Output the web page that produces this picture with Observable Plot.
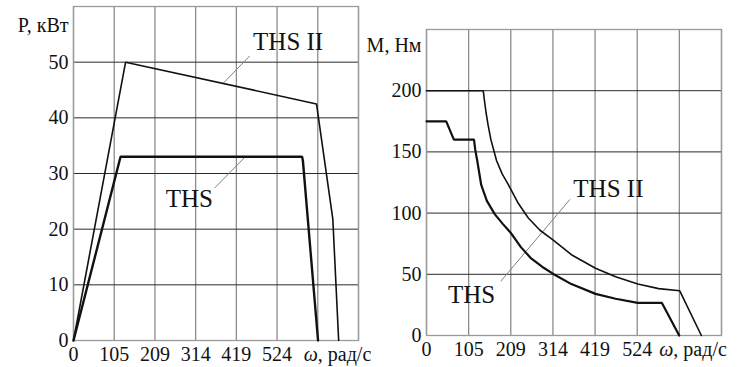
<!DOCTYPE html>
<html><head><meta charset="utf-8">
<script src="https://cdn.jsdelivr.net/npm/d3@7"></script>
<script src="https://cdn.jsdelivr.net/npm/@observablehq/plot@0.6"></script>
<style>
body{margin:0;background:#fff}
#wrap{position:relative;width:742px;height:367px;overflow:hidden}
#wrap svg{position:absolute;left:0;top:0;overflow:visible;background:transparent !important}
</style></head><body><div id="wrap"></div>
<script>
// ---- data ----
const gridX = [0, 104.72, 209.44, 314.16, 418.88, 523.6, 628.32, 733.04];
const xTickVals = [0, 104.72, 209.44, 314.16, 418.88, 523.6];
const xTickLabels = ["0", "105", "209", "314", "419", "524"];
const pTicks = [0, 10, 20, 30, 40, 50];
const pGrid = [10, 20, 30, 40, 50];
const mTicks = [0, 50, 100, 150, 200];
const mGrid = [50, 100, 150, 200];

// Power P (kW) vs omega (rad/s)
const pThs2W = [0, 134, 625, 667, 682];
const pThs2P = [0, 50, 42.5, 21.8, 0];
const pThsW  = [0, 121, 588, 590, 629];
const pThsP  = [0, 33, 33, 32.3, 0];

// Torque M (N·m) vs omega (rad/s)
const mThs2W = [0, 141, 144, 148, 153, 160, 174, 188, 203, 228, 253, 282, 315, 360, 420, 470, 525, 577, 629, 683];
const mThs2M = [200, 200, 192, 182, 172, 160, 143, 132, 123.5, 108, 96, 86, 78, 66, 55, 48, 42, 38.3, 36.6, 0];
const mThsW  = [0, 49, 68, 118, 121, 126, 136, 150, 170, 190, 209, 235, 260, 288, 315, 360, 420, 470, 525, 585, 628];
const mThsM  = [175, 175, 160, 160, 152, 143, 123, 110, 99, 91, 84, 72, 63, 56, 50.3, 42, 34, 30, 26.6, 26.6, 0];

// labels and leader lines (data units)
const pLabels = [{t: "THS II", w: 552, v: 53.7}, {t: "THS", w: 298, v: 25.4}];
const pLeaders = [{w1: 453, v1: 51.1, w2: 385, v2: 46.2}, {w1: 442, v1: 33.0, w2: 363, v2: 27.4}];
const mLabels = [{t: "THS II", w: 452, v: 120}, {t: "THS", w: 112, v: 33.4}];
const mLeaders = [{w1: 356.5, v1: 111.2, w2: 184.5, v2: 44.3}];

const SERIF = "Liberation Serif, Times New Roman, DejaVu Serif, serif";
const toPts = (xs, ys) => xs.map((x, i) => ({x, y: ys[i]}));

function panel({ml, mr, mt, mb, ydom, grid, ticks, curves, labels, leaders, ylab, ylabY, omegaDx}) {
  const svg = Plot.plot({
    width: 742, height: 367,
    marginLeft: ml, marginRight: mr, marginTop: mt, marginBottom: mb,
    style: {fontSize: "20px", background: "transparent", color: "#111", fontFamily: SERIF},
    x: {domain: [0, 733.04]},
    y: {domain: ydom},
    marks: [
      Plot.ruleX(gridX, {stroke: "#8c8c8c", strokeWidth: 1.3}),
      Plot.ruleY(grid, {stroke: "#2a2a2a", strokeWidth: 1}),
      Plot.frame({stroke: "#9a9a9a", strokeWidth: 1.3}),
      Plot.link(leaders, {x1: "w1", y1: "v1", x2: "w2", y2: "v2", stroke: "#808080", strokeWidth: 1}),
      ...curves.map(c => Plot.line(toPts(c.xs, c.ys), {x: "x", y: "y", stroke: "#111", strokeWidth: c.sw, strokeLinejoin: "miter"})),
      Plot.text(labels, {x: "w", y: "v", text: "t", fontSize: 25, fill: "#111", lineAnchor: "middle"}),
      Plot.axisX({ticks: xTickVals, tickFormat: (d) => xTickLabels[xTickVals.indexOf(d)], tickSize: 0, tickPadding: 6, label: null, fontSize: 20}),
      Plot.axisY({ticks: ticks, tickSize: 0, tickPadding: 5, label: null, fontSize: 20}),
      Plot.text([ylab], {x: 0, y: ylabY, text: d => d, textAnchor: "end", dx: -5, fontSize: 20, fill: "#111"}),
      Plot.text(["ω"], {x: 628.32, y: ydom[0], text: d => d, textAnchor: "start", lineAnchor: "top", dy: 6, dx: omegaDx, fontStyle: "italic", fontSize: 20, fill: "#111"}),
      Plot.text([", рад/с"], {x: 628.32, y: ydom[0], text: d => d, textAnchor: "start", lineAnchor: "top", dy: 6, dx: omegaDx + 14, fontSize: 20, fill: "#111"})
    ]
  });
  svg.setAttribute("font-family", SERIF);
  svg.querySelectorAll("[font-family]").forEach(el => el.setAttribute("font-family", SERIF));
  svg.querySelectorAll("text").forEach(el => el.setAttribute("font-family", SERIF));
  return svg;
}

const wrap = document.getElementById("wrap");
wrap.appendChild(panel({
  ml: 73, mr: 384, mt: 6, mb: 27, ydom: [0, 60], grid: pGrid, ticks: pTicks,
  curves: [{xs: pThs2W, ys: pThs2P, sw: 1.6}, {xs: pThsW, ys: pThsP, sw: 2.4}],
  labels: pLabels, leaders: pLeaders, ylab: "P, кВт", ylabY: 56.5, omegaDx: -14
}));
wrap.appendChild(panel({
  ml: 426, mr: 21, mt: 29, mb: 32, ydom: [0, 250], grid: mGrid, ticks: mTicks,
  curves: [{xs: mThs2W, ys: mThs2M, sw: 1.6}, {xs: mThsW, ys: mThsM, sw: 2.2}],
  labels: mLabels, leaders: mLeaders, ylab: "M, Нм", ylabY: 236.6, omegaDx: -20
}));
</script></body></html>
